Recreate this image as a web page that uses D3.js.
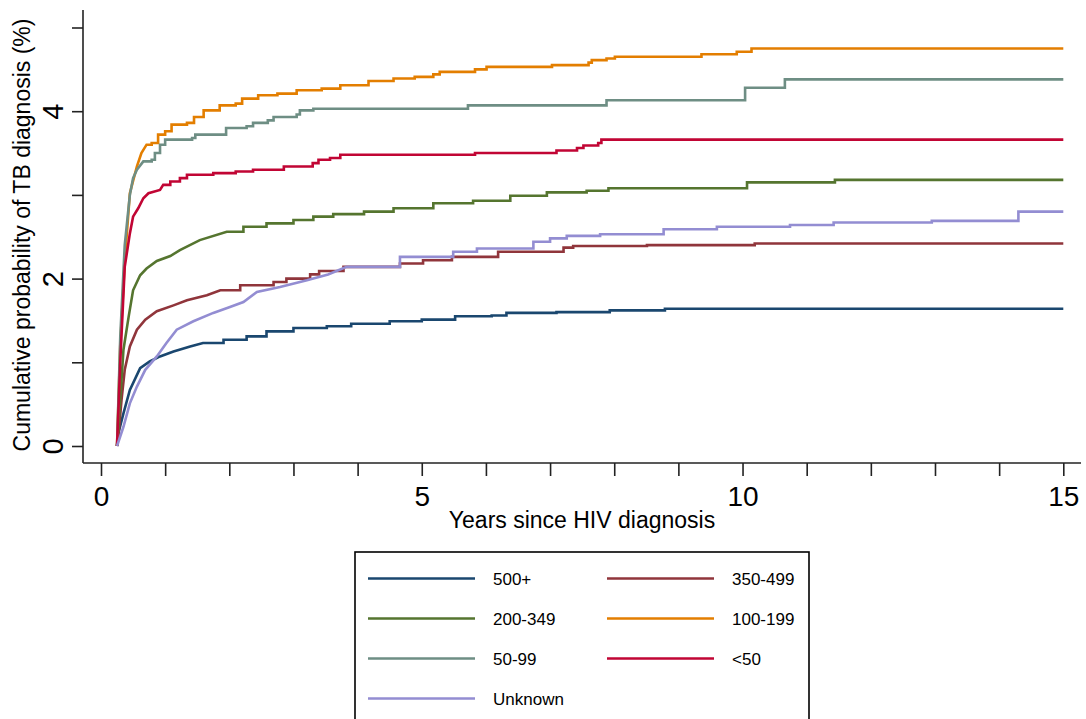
<!DOCTYPE html>
<html>
<head>
<meta charset="utf-8">
<script src="https://cdn.jsdelivr.net/npm/d3@7"></script>
<style>
  body { margin: 0; background: #fff; }
  text { font-family: Arial, "Liberation Sans", sans-serif; fill: #000; }
</style>
</head>
<body>
<div id="my_dataviz"></div>
<script>
// cumulative probability of TB (%) by years since HIV diagnosis, per CD4 group
var groups = ["500+", "350-499", "200-349", "100-199", "50-99", "<50", "Unknown"];

var cd4_500plus = [[0.25,0],[0.27,0.15],[0.35,0.39],[0.45,0.67],[0.61,0.93],[0.76,1.01],[0.92,1.07],[1.13,1.13],[1.39,1.19],[1.59,1.23],[1.91,1.27],[2.27,1.31],[2.58,1.37],[3.0,1.41],[3.52,1.43],[3.9,1.46],[4.5,1.49],[5.0,1.51],[5.52,1.55],[6.09,1.56],[6.32,1.59],[7.1,1.6],[7.93,1.62],[8.79,1.64],[15,1.64]];
var cd4_350_499 = [[0.25,0],[0.27,0.11],[0.32,0.55],[0.37,0.91],[0.45,1.19],[0.56,1.39],[0.69,1.51],[0.87,1.61],[1.13,1.68],[1.34,1.74],[1.65,1.8],[1.86,1.86],[2.17,1.92],[2.69,1.96],[2.89,2.0],[3.26,2.05],[3.4,2.09],[3.78,2.14],[4.66,2.18],[5.02,2.22],[5.47,2.26],[6.19,2.32],[7.21,2.37],[7.36,2.39],[8.51,2.4],[10.19,2.42],[15,2.42]];
var cd4_200_349 = [[0.25,0],[0.3,0.55],[0.35,1.15],[0.43,1.54],[0.5,1.86],[0.61,2.04],[0.71,2.12],[0.87,2.21],[1.08,2.27],[1.23,2.34],[1.54,2.46],[1.96,2.56],[2.22,2.62],[2.58,2.66],[3.0,2.7],[3.31,2.74],[3.62,2.77],[4.1,2.8],[4.56,2.84],[5.18,2.9],[5.8,2.93],[6.38,2.99],[6.95,3.03],[7.57,3.05],[7.91,3.08],[10.07,3.15],[11.44,3.18],[15,3.18]];
var cd4_100_199 = [[0.25,0],[0.3,1.2],[0.37,2.2],[0.45,3.02],[0.56,3.34],[0.63,3.5],[0.71,3.6],[0.79,3.62],[0.89,3.72],[1.0,3.76],[1.1,3.84],[1.34,3.86],[1.45,3.93],[1.6,4.01],[1.85,4.07],[2.1,4.09],[2.2,4.15],[2.45,4.19],[2.75,4.21],[3.05,4.25],[3.44,4.27],[3.73,4.31],[4.17,4.36],[4.56,4.39],[4.89,4.41],[5.18,4.44],[5.28,4.47],[5.83,4.5],[6.01,4.53],[7.03,4.55],[7.6,4.58],[7.65,4.61],[7.88,4.63],[8.01,4.65],[9.36,4.68],[9.91,4.71],[10.14,4.75],[15,4.75]];
var cd4_50_99 = [[0.25,0],[0.3,1.3],[0.37,2.4],[0.45,3.0],[0.5,3.2],[0.56,3.3],[0.66,3.4],[0.79,3.42],[0.84,3.5],[0.92,3.6],[1.0,3.66],[1.42,3.68],[1.47,3.72],[1.95,3.8],[2.27,3.82],[2.37,3.86],[2.6,3.89],[2.69,3.93],[3.05,3.96],[3.1,4.01],[3.31,4.03],[5.72,4.07],[7.88,4.13],[10.04,4.28],[10.66,4.38],[15,4.38]];
var cd4_lt50 = [[0.25,0],[0.3,1.0],[0.37,2.14],[0.45,2.54],[0.5,2.74],[0.58,2.84],[0.66,2.96],[0.74,3.02],[0.92,3.06],[0.97,3.12],[1.08,3.16],[1.23,3.2],[1.34,3.24],[1.75,3.26],[2.1,3.28],[2.37,3.3],[2.85,3.34],[3.3,3.38],[3.39,3.42],[3.57,3.44],[3.73,3.48],[5.83,3.5],[7.1,3.53],[7.42,3.56],[7.52,3.59],[7.75,3.62],[7.8,3.66],[15,3.66]];
var cd4_unknown = [[0.25,0],[0.35,0.23],[0.45,0.51],[0.56,0.71],[0.69,0.91],[0.87,1.07],[1.02,1.23],[1.18,1.39],[1.44,1.49],[1.75,1.59],[2.01,1.66],[2.22,1.72],[2.43,1.84],[2.79,1.9],[3.21,1.98],[3.54,2.05],[3.83,2.14],[4.66,2.26],[5.49,2.32],[5.86,2.36],[6.74,2.44],[7.0,2.48],[7.26,2.51],[7.78,2.53],[8.77,2.59],[9.6,2.62],[10.74,2.64],[11.42,2.67],[12.95,2.69],[14.3,2.8],[15,2.8]];

var seriesData = [cd4_500plus, cd4_350_499, cd4_200_349, cd4_100_199, cd4_50_99, cd4_lt50, cd4_unknown];

var xTicks = [0,1,2,3,4,5,6,7,8,9,10,11,12,13,14,15];
var xTickLabels = [0,5,10,15];
var yTicks = [0,1,2,3,4,5];
var yTickLabels = [0,2,4];

// stata s2color
var colors = ["#1a476f", "#90353b", "#55752f", "#e37e00", "#6e8e84", "#c10534", "#938dd2"];
// curves are joined straight until this time (many tiny steps), stepped afterwards
var rampEnd = [1.7, 1.9, 2.0, 0.75, 0.7, 1.0, 3.9];

var svg = d3.select("#my_dataviz")
  .append("svg")
    .attr("width", 1086)
    .attr("height", 719);

var x = d3.scaleLinear().domain([0, 15]).range([101, 1063.3]);
var y = d3.scaleLinear().domain([0, 5]).range([446, 27.5]);

var axisColor = "#222";

/////  axes
svg.append("line")
  .attr("x1", 83).attr("x2", 83)
  .attr("y1", 10).attr("y2", 463)
  .attr("stroke", axisColor).attr("stroke-width", 1.6);

svg.append("line")
  .attr("x1", 83).attr("x2", 1081)
  .attr("y1", 463).attr("y2", 463)
  .attr("stroke", axisColor).attr("stroke-width", 1.6);

var xAxis = svg.append("g")
  .attr("transform", "translate(0,463)")
  .call(d3.axisBottom(x)
    .tickValues(xTicks)
    .tickSize(13)
    .tickPadding(10)
    .tickFormat(function(d) { return xTickLabels.indexOf(d) >= 0 ? d : ""; }));
xAxis.select(".domain").remove();
xAxis.selectAll(".tick line").attr("stroke", axisColor).attr("stroke-width", 1.6);
xAxis.selectAll(".tick text")
  .attr("font-size", 28)
  .attr("font-family", "Arial, 'Liberation Sans', sans-serif")
  .attr("fill", "#000");

var yAxis = svg.append("g")
  .attr("transform", "translate(83,0)")
  .call(d3.axisLeft(y)
    .tickValues(yTicks)
    .tickSize(11)
    .tickFormat(function(d) { return yTickLabels.indexOf(d) >= 0 ? d : ""; }));
yAxis.select(".domain").remove();
yAxis.selectAll(".tick line").attr("stroke", axisColor).attr("stroke-width", 1.6);
yAxis.selectAll(".tick text")
  .attr("font-size", 29)
  .attr("font-family", "Arial, 'Liberation Sans', sans-serif")
  .attr("fill", "#000")
  .attr("transform", "rotate(-90)")
  .attr("x", 0)
  .attr("y", -20)
  .attr("dy", 0)
  .attr("text-anchor", "middle");

svg.append("text")
  .attr("x", 582)
  .attr("y", 528)
  .attr("font-size", 23)
  .attr("text-anchor", "middle")
  .text("Years since HIV diagnosis");

svg.append("text")
  .attr("transform", "translate(30,235) rotate(-90)")
  .attr("font-size", 23)
  .attr("text-anchor", "middle")
  .text("Cumulative probability of TB diagnosis (%)");

/////  curves
function stepPoints(pts, tRamp) {
  var out = [pts[0]];
  for (var i = 1; i < pts.length; i++) {
    if (pts[i][0] > tRamp) out.push([pts[i][0], pts[i - 1][1]]);
    out.push(pts[i]);
  }
  return out;
}

var line = d3.line()
  .x(function(d) { return x(d[0]); })
  .y(function(d) { return y(d[1]); });

seriesData.forEach(function(s, i) {
  svg.append("path")
    .datum(stepPoints(s, rampEnd[i]))
    .attr("fill", "none")
    .attr("stroke", colors[i])
    .attr("stroke-width", 2.6)
    .attr("stroke-linejoin", "miter")
    .attr("d", line);
});

/////  legend
var legend = svg.append("g").attr("transform", "translate(355,552)");

legend.append("rect")
  .attr("x", 0).attr("y", 0)
  .attr("width", 454).attr("height", 200)
  .attr("fill", "none")
  .attr("stroke", "#000")
  .attr("stroke-width", 1.6);

groups.forEach(function(g, i) {
  var col = i % 2, row = Math.floor(i / 2);
  var gx = col * 239, gy = 26.5 + row * 40;
  legend.append("line")
    .attr("x1", 13 + gx).attr("x2", 120 + gx)
    .attr("y1", gy).attr("y2", gy)
    .attr("stroke", colors[i])
    .attr("stroke-width", 2.6);
  legend.append("text")
    .attr("x", 138 + gx)
    .attr("y", gy + 6)
    .attr("font-size", 17)
    .text(g);
});
</script>
</body>
</html>
